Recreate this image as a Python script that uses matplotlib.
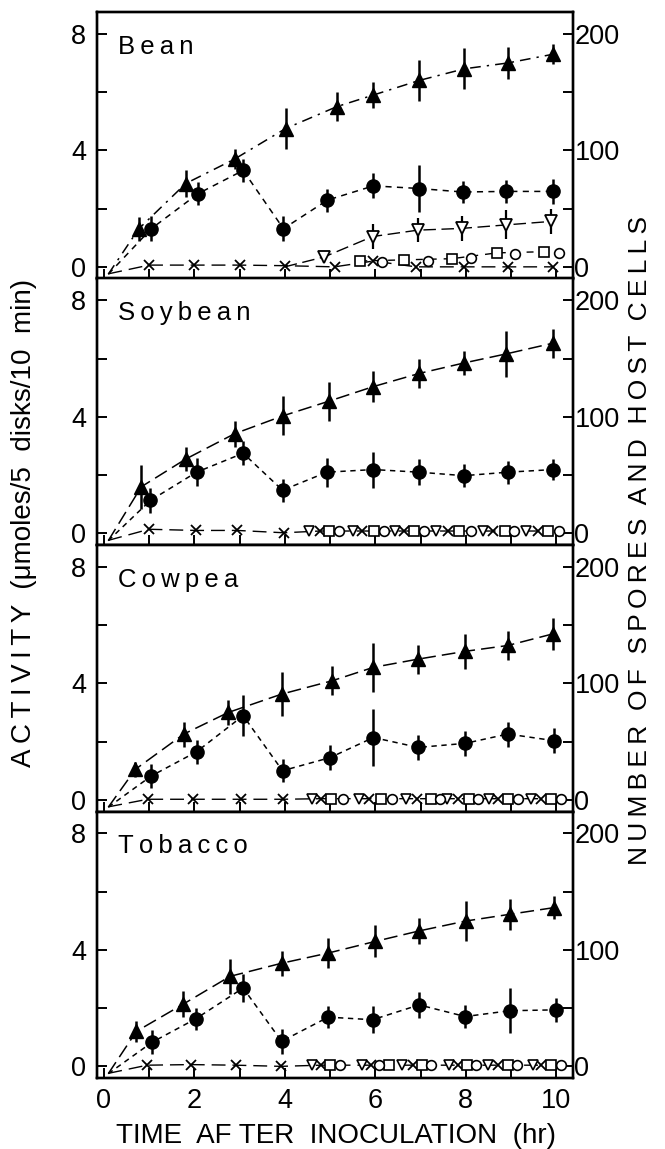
import matplotlib
matplotlib.use("Agg")
import matplotlib.pyplot as plt
from matplotlib.ticker import MultipleLocator

plt.rcParams["font.family"] = ["Liberation Sans", "DejaVu Sans"]

# =====================================
# DATA
# activity in umoles/5 disks/10 min, counts = spores and host cells
# =====================================
panel_names = ["Bean", "Soybean", "Cowpea", "Tobacco"]

# point where every curve starts (time 0)
zero_t = 0.1
zero_act = -0.25
zero_count = -6

# filled triangles
bean_tri_t = [0.77, 1.81, 2.89, 4.02, 5.15, 5.96, 6.97, 7.97, 8.93, 9.93]
bean_tri = [1.3, 2.86, 3.7, 4.75, 5.5, 5.9, 6.4, 6.8, 7.0, 7.3]
bean_tri_err = [0.4, 0.45, 0.35, 0.7, 0.5, 0.45, 0.7, 0.7, 0.55, 0.35]

soy_tri_t = [0.83, 1.81, 2.89, 3.95, 4.98, 5.96, 6.97, 7.96, 8.89, 9.93]
soy_tri = [1.6, 2.55, 3.42, 4.03, 4.54, 5.04, 5.49, 5.85, 6.16, 6.53]
soy_tri_err = [0.75, 0.42, 0.45, 0.67, 0.67, 0.53, 0.5, 0.42, 0.8, 0.5]

cow_tri_t = [0.7, 1.77, 2.75, 3.93, 5.05, 5.96, 6.94, 7.99, 8.93, 9.93]
cow_tri = [1.05, 2.26, 3.0, 3.63, 4.09, 4.55, 4.83, 5.1, 5.3, 5.7]
cow_tri_err = [0.25, 0.43, 0.43, 0.75, 0.5, 0.85, 0.5, 0.6, 0.5, 0.55]

tob_tri_t = [0.72, 1.76, 2.79, 3.93, 4.96, 6.0, 6.97, 8.0, 8.97, 9.95]
tob_tri = [1.2, 2.14, 3.09, 3.54, 3.89, 4.29, 4.65, 4.99, 5.22, 5.45]
tob_tri_err = [0.37, 0.43, 0.6, 0.43, 0.5, 0.55, 0.45, 0.69, 0.54, 0.4]

# filled circles
bean_cir_t = [1.05, 2.08, 3.08, 3.97, 4.94, 5.96, 6.97, 7.93, 8.89, 9.93]
bean_cir = [1.31, 2.51, 3.31, 1.31, 2.29, 2.78, 2.69, 2.57, 2.59, 2.59]
bean_cir_err = [0.42, 0.4, 0.4, 0.42, 0.4, 0.43, 0.8, 0.37, 0.4, 0.43]

soy_cir_t = [1.03, 2.05, 3.08, 3.95, 4.93, 5.96, 6.97, 7.96, 8.93, 9.93]
soy_cir = [1.13, 2.1, 2.75, 1.48, 2.1, 2.19, 2.1, 1.98, 2.1, 2.19]
soy_cir_err = [0.43, 0.48, 0.42, 0.4, 0.5, 0.62, 0.45, 0.4, 0.4, 0.35]

cow_cir_t = [1.05, 2.05, 3.08, 3.95, 5.0, 5.96, 6.95, 7.99, 8.93, 9.96]
cow_cir = [0.82, 1.65, 2.89, 1.0, 1.45, 2.14, 1.8, 1.94, 2.26, 2.03]
cow_cir_err = [0.4, 0.42, 0.7, 0.4, 0.43, 0.97, 0.43, 0.43, 0.43, 0.43]

tob_cir_t = [1.07, 2.03, 3.08, 3.93, 4.96, 5.94, 6.97, 7.99, 8.97, 10.0]
tob_cir = [0.83, 1.63, 2.69, 0.86, 1.69, 1.6, 2.11, 1.71, 1.91, 1.94]
tob_cir_err = [0.41, 0.37, 0.47, 0.42, 0.38, 0.47, 0.45, 0.41, 0.77, 0.41]

# crosses (counts, right axis)
bean_x_t = [1.0, 2.0, 3.0, 4.0, 5.1, 5.96, 6.9, 7.97, 8.93, 9.93]
bean_x = [1.5, 1.5, 1.5, 1.0, 0, 5, 0, 0, 0, 0]
soy_x_t = [1.0, 2.03, 2.95, 3.98, 4.78, 5.7, 6.64, 7.6, 8.6, 9.6]
soy_x = [3.5, 2.5, 2.5, 0.5, 2, 2, 2, 2, 2, 2]
cow_x_t = [0.97, 1.98, 3.04, 3.95, 4.8, 5.87, 6.92, 7.82, 8.71, 9.67]
cow_x = [0.5, 0.5, 0.5, 0.5, 1, 1, 1, 1, 1, 1]
tob_x_t = [0.96, 1.92, 2.92, 3.91, 4.8, 5.9, 6.83, 7.82, 8.71, 9.67]
tob_x = [1, 1.5, 1, 0, 1, 1, 1, 1, 1, 1]

# open triangles
bean_dn_t = [4.0, 4.87, 5.94, 6.94, 7.91, 8.89, 9.89]
bean_dn = [0, 8.5, 26, 31.5, 33, 36, 39]
bean_dn_err = [0, 5, 10.5, 10.5, 10.5, 12.5, 10.5]
soy_dn_t = [4.54, 5.5, 6.44, 7.34, 8.38, 9.34]
soy_dn = [2, 2, 2, 2, 2, 2]
cow_dn_t = [4.61, 5.65, 6.68, 7.59, 8.52, 9.45]
cow_dn = [1, 1, 1, 1, 1, 1]
tob_dn_t = [4.61, 5.7, 6.6, 7.64, 8.49, 9.48]
tob_dn = [1, 1, 1, 1, 1, 1]

# open squares
bean_sq_t = [5.67, 6.63, 7.69, 8.69, 9.73]
bean_sq = [5, 6, 7, 12, 13]
soy_sq_t = [4.98, 5.98, 6.85, 7.86, 8.86, 9.82]
soy_sq = [2, 2, 2, 2, 2, 2]
cow_sq_t = [5.02, 6.13, 7.23, 8.08, 8.93, 9.89]
cow_sq = [1, 1, 1, 1, 1, 1]
tob_sq_t = [5.0, 6.31, 7.03, 8.03, 8.93, 9.89]
tob_sq = [1, 1, 1, 1, 1, 1]

# open circles
bean_op_t = [6.14, 7.16, 8.12, 9.08, 10.07]
bean_op = [4, 5, 8, 11, 11.5]
soy_op_t = [5.2, 6.2, 7.08, 8.12, 9.06, 10.07]
soy_op = [2, 2, 2, 2, 2, 2]
cow_op_t = [5.28, 6.38, 7.42, 8.27, 9.15, 10.11]
cow_op = [1, 1, 1, 1, 1, 1]
tob_op_t = [5.22, 6.09, 7.23, 8.23, 9.14, 10.11]
tob_op = [1, 1, 1, 1, 1, 1]

x_ticks = [0, 2, 4, 6, 8, 10]
left_ticks = [0, 4, 8]
right_ticks = [0, 100, 200]

tri_t = [bean_tri_t, soy_tri_t, cow_tri_t, tob_tri_t]
tri = [bean_tri, soy_tri, cow_tri, tob_tri]
tri_err = [bean_tri_err, soy_tri_err, cow_tri_err, tob_tri_err]
cir_t = [bean_cir_t, soy_cir_t, cow_cir_t, tob_cir_t]
cir = [bean_cir, soy_cir, cow_cir, tob_cir]
cir_err = [bean_cir_err, soy_cir_err, cow_cir_err, tob_cir_err]
x_t = [bean_x_t, soy_x_t, cow_x_t, tob_x_t]
x_n = [bean_x, soy_x, cow_x, tob_x]
dn_t = [bean_dn_t, soy_dn_t, cow_dn_t, tob_dn_t]
dn_n = [bean_dn, soy_dn, cow_dn, tob_dn]
sq_t = [bean_sq_t, soy_sq_t, cow_sq_t, tob_sq_t]
sq_n = [bean_sq, soy_sq, cow_sq, tob_sq]
op_t = [bean_op_t, soy_op_t, cow_op_t, tob_op_t]
op_n = [bean_op, soy_op, cow_op, tob_op]

# =====================================
# FIGURE
# =====================================
fig = plt.figure(figsize=(6.65, 11.49), dpi=100)

left = 97 / 665
width = 476 / 665
bottom = 71 / 1149
height = 266.5 / 1149

act_lim = (-0.4, 8.75)
count_lim = (act_lim[0] * 25, act_lim[1] * 25)

tri_styles = [(0, (7, 4, 1.5, 4)), (0, (9, 4)), (0, (9, 4)), (0, (9, 4))]
cir_styles = [(0, (4, 3.5)), (0, (3.5, 3)), (0, (3.5, 3)), (0, (3.5, 3))]

TS = "\u2009"  # thin space, used for the letter spacing of the labels

for i, name in enumerate(panel_names):
    ax = fig.add_axes([left, bottom + (3 - i) * height, width, height])
    ax2 = ax.twinx()

    # ---- activity: filled triangles and circles ----
    ax.plot([zero_t] + tri_t[i], [zero_act] + tri[i],
            color="k", lw=1.1, ls=tri_styles[i])
    ax.plot([zero_t] + cir_t[i], [zero_act] + cir[i],
            color="k", lw=1.1, ls=cir_styles[i])
    ax.errorbar(tri_t[i], tri[i], yerr=tri_err[i], fmt="none",
                ecolor="k", elinewidth=1.8, capsize=0)
    ax.errorbar(cir_t[i], cir[i], yerr=cir_err[i], fmt="none",
                ecolor="k", elinewidth=1.8, capsize=0)
    ax.plot(tri_t[i], tri[i], ls="none", marker="^", ms=9.5,
            color="k")
    ax.plot(cir_t[i], cir[i], ls="none", marker="o", ms=9.5,
            color="k")

    # ---- counts: crosses and open symbols ----
    ax2.plot([zero_t] + x_t[i], [zero_count] + x_n[i],
             color="k", lw=1.0, ls=(0, (10, 5)))
    ax2.plot(x_t[i], x_n[i], ls="none", marker="x", ms=6.5,
             mew=1.3, color="k")

    if i == 0:
        ax2.errorbar(dn_t[i], dn_n[i], yerr=bean_dn_err, fmt="none",
                     ecolor="k", elinewidth=1.6, capsize=0)
        ax2.plot(dn_t[i], dn_n[i], color="k", lw=1.0, ls=(0, (9, 4)))
        ax2.plot(sq_t[i], sq_n[i], color="k", lw=1.0, ls=(0, (5, 5)))
        ax2.plot(dn_t[i][1:], dn_n[i][1:], ls="none", marker="v",
                 ms=8, mfc="white", mec="k", mew=1.3)
    else:
        ax2.plot(dn_t[i], dn_n[i], ls="none", marker="v",
                 ms=7, mfc="white", mec="k", mew=1.2)

    ax2.plot(sq_t[i], sq_n[i], ls="none", marker="s", ms=6.5,
             mfc="white", mec="k", mew=1.2)
    ax2.plot(op_t[i], op_n[i], ls="none", marker="o", ms=7,
             mfc="white", mec="k", mew=1.2)

    # ---- axes ----
    ax.set_xlim(-0.15, 10.37)
    ax.set_ylim(act_lim)
    ax2.set_ylim(count_lim)

    ax.set_xticks(x_ticks)
    ax.xaxis.set_minor_locator(MultipleLocator(1))
    ax.set_yticks(left_ticks)
    ax.yaxis.set_minor_locator(MultipleLocator(2))
    ax2.set_yticks(right_ticks)
    ax2.yaxis.set_minor_locator(MultipleLocator(50))

    ax.tick_params(axis="both", which="both", direction="in",
                   length=7, width=1.4, labelsize=19.5)
    ax.tick_params(axis="y", pad=8)
    ax.tick_params(axis="x", pad=7)
    ax2.tick_params(axis="y", which="both", direction="in",
                    length=7, width=1.4, labelsize=19.5, pad=1)

    if i < 3:
        ax.tick_params(axis="x", labelbottom=False)

    for sp in ax2.spines.values():
        sp.set_linewidth(1.7)
    for sp in ax.spines.values():
        sp.set_linewidth(1.7)

    ax.text(0.045, 0.915, TS.join(name), transform=ax.transAxes,
            fontsize=18.5, ha="left", va="top")

# =====================================
# AXIS LABELS
# =====================================
fig.text(0.036, 0.545,
         TS.join("ACTIVITY") + "  (\u03bcmoles/5  disks/10  min)",
         rotation=90, ha="center", va="center", fontsize=20)

right_words = ["NUMBER", "OF", "SPORES", "AND", "HOST", "CELLS"]
fig.text(0.962, 0.530, "  ".join(TS.join(w) for w in right_words),
         rotation=90, ha="center", va="center", fontsize=19)

fig.text(0.505, 0.011, "TIME  AF TER  INOCULATION  (hr)",
         ha="center", va="center", fontsize=20)

fig.savefig("out.png", dpi=100)
